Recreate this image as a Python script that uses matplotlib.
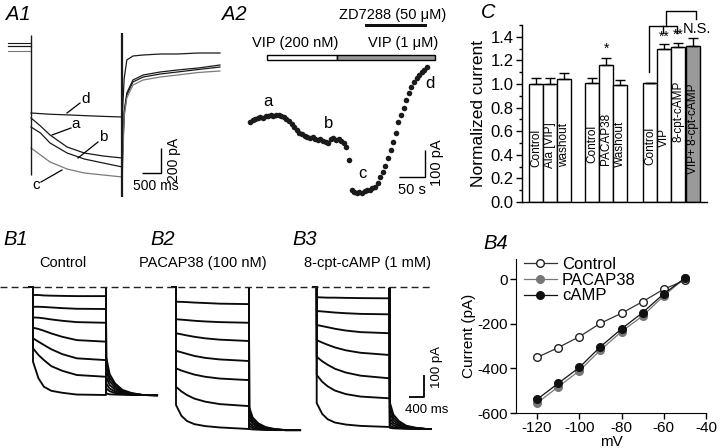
import matplotlib
matplotlib.use("Agg")
import matplotlib.pyplot as plt
from matplotlib.lines import Line2D
from matplotlib.patches import Rectangle

plt.rcParams['font.family'] = ['Liberation Sans', 'DejaVu Sans']
plt.rcParams['axes.unicode_minus'] = False

# ---------------- data ----------------
# A1: Ih traces (ms, pA)
A1_step_t = [0, 250, 500, 950, 1400, 1900, 2400]
A1_a = [-568, -632, -704, -800, -848, -872, -888]
A1_b = [-640, -688, -768, -848, -896, -928, -960]
A1_c = [-808, -864, -920, -976, -1008, -1024, -1040]
A1_d = [-528, -533, -538, -543, -549, -555, -560]
A1_hold = {'d': 32, 'a': 8, 'b': 8, 'c': -32}
A1_tail_t = [2520, 2680, 2950, 3400, 3850, 4400, 4970]
A1_tail_d = [-104, -72, -64, -56, -56, -48, -48]
A1_tail_a = [-368, -264, -224, -200, -184, -168, -144]
A1_tail_b = [-384, -280, -240, -216, -200, -180, -160]
A1_tail_c = [-408, -304, -264, -240, -224, -204, -192]
A1_transient_on = (96, -1024)
A1_transient_off = (112, -1200)

# A2: time course of Ih amplitude (s, pA change)
A2_dt = 5
A2_current = [0, 7, 11, 15, 18, 15, 22, 22, 26, 22, 26, 26, 22, 18, 11, 4,
              -7, -18, -30, -41, -44, -52, -55, -59, -55, -63, -67, -63, -70,
              -74, -78, -63, -59, -67, -63, -70, -78, -92, -141, -252, -259,
              -263, -259, -263, -255, -252, -252, -244, -241, -226, -204,
              -185, -163, -133, -104, -74, -41, 0, 26, 52, 81, 107, 130, 148,
              163, 174, 185, 192, 204]
A2_vip200 = (33, 167)
A2_vip1 = (167, 355)
A2_zd = (221, 340)

# C: normalized current
C_labels = ['Control', 'Ala [VIP]', 'washout', 'Control', 'PACAP38', 'Washout',
            'Control', 'VIP', '8-cpt-cAMP', 'VIP+ 8-cpt-cAMP']
C_values = [1.00, 1.00, 1.045, 1.01, 1.165, 0.99, 1.01, 1.298, 1.312, 1.32]
C_errors = [0.047, 0.047, 0.05, 0.042, 0.057, 0.048, 0.0, 0.037, 0.038, 0.07]
C_pos = [1, 2, 3, 5, 6, 7, 9.15, 10.15, 11.15, 12.2]

# B1-B3: current families (ms, pA)
B_step_t = [0, 150, 300, 500, 800, 1200, 2000]
B_tail_t = [2005, 2100, 2250, 2450, 2700, 3000, 3400]
B_transient = -5
B1_steps = [[-36, -36, -38, -39, -40, -41, -41],
            [-89, -89, -90, -92, -95, -98, -99],
            [-137, -138, -141, -146, -152, -158, -161],
            [-183, -189, -197, -209, -224, -239, -246],
            [-231, -246, -261, -280, -302, -321, -329],
            [-276, -306, -329, -356, -377, -396, -404],
            [-336, -411, -449, -467, -476, -484, -486]]
B1_tails = [[-479, -483, -484, -485, -486, -486, -487],
            [-456, -469, -477, -482, -484, -486, -487],
            [-434, -457, -470, -479, -483, -486, -487],
            [-404, -441, -461, -475, -482, -486, -487],
            [-374, -424, -452, -471, -480, -486, -487],
            [-344, -408, -443, -467, -479, -486, -487],
            [-314, -392, -434, -463, -477, -486, -487]]
B2_steps = [[-66, -67, -68, -70, -72, -75, -77],
            [-145, -147, -149, -152, -155, -158, -161],
            [-208, -213, -218, -224, -231, -237, -243],
            [-287, -294, -301, -310, -319, -326, -333],
            [-366, -376, -384, -394, -404, -412, -419],
            [-449, -470, -486, -502, -516, -527, -536],
            [-531, -580, -603, -617, -626, -632, -639]]
B2_tails = [[-639, -641, -642, -643, -644, -644, -644],
            [-626, -634, -639, -642, -643, -644, -644],
            [-612, -626, -634, -640, -642, -644, -644],
            [-594, -616, -629, -637, -642, -644, -644],
            [-576, -607, -624, -635, -641, -644, -644],
            [-558, -597, -618, -633, -640, -644, -644],
            [-540, -587, -613, -630, -639, -644, -644]]
B3_steps = [[-46, -47, -48, -48, -49, -50, -51],
            [-108, -110, -112, -115, -118, -121, -123],
            [-171, -176, -181, -188, -196, -203, -208],
            [-239, -250, -260, -272, -285, -296, -306],
            [-314, -334, -350, -368, -385, -399, -411],
            [-396, -426, -447, -466, -482, -493, -501],
            [-522, -571, -595, -610, -619, -625, -630]]
B3_tails = [[-634, -636, -637, -638, -639, -639, -639],
            [-624, -631, -634, -637, -638, -639, -639],
            [-608, -622, -630, -635, -637, -639, -639],
            [-590, -612, -624, -633, -637, -639, -639],
            [-568, -600, -618, -630, -635, -639, -639],
            [-545, -587, -611, -627, -634, -639, -639],
            [-520, -574, -603, -624, -633, -639, -639]]

# B4: I-V relation
B4_mv = [-120, -110, -100, -90, -80, -70, -60, -50]
B4_control = [-351, -307, -258, -198, -153, -101, -45, -6]
B4_pacap = [-555, -483, -411, -318, -235, -165, -75, 4]
B4_camp = [-539, -467, -396, -303, -223, -150, -66, 4]

# ---------------- layout helpers ----------------
W, H = 720, 448
fig = plt.figure(figsize=(W / 100, H / 100), dpi=100)


def px_axes(l, t, r, b):
    return fig.add_axes([l / W, 1 - b / H, (r - l) / W, (b - t) / H])


def trace_axes(l, t, r, b, x0, y0, xs, ys):
    ax = px_axes(l, t, r, b)
    ax.set_xlim((l - x0) * xs, (r - x0) * xs)
    ax.set_ylim((y0 - b) * ys, (y0 - t) * ys)
    ax.axis('off')
    ax._map = (x0, y0, xs, ys)
    return ax


def p2d(ax, x, y):
    x0, y0, xs, ys = ax._map
    return (x - x0) * xs, (y0 - y) * ys


def ftext(x, y, s, **kw):
    fig.text(x / W, 1 - y / H, s, **kw)


def fline(xs, ys, **kw):
    fig.add_artist(Line2D([x / W for x in xs], [1 - y / H for y in ys], **kw))


def scalebar(ax, xpx, ypx, dx, dy, lw=1.0):
    x, y = p2d(ax, xpx, ypx)
    ax.plot([x - dx, x, x], [y, y, y + dy], color='k', lw=lw,
            solid_capstyle='butt', clip_on=False)


LAB = dict(fontsize=14.5, style='italic', va='center', ha='left')

# ---------------- A1 ----------------
axA1 = trace_axes(5, 28, 225, 205, 31, 47, 26.3, 8.0)
dark, grey = '#1a1a1a', '#7a7a7a'
for key, steps, tail, col in [('d', A1_d, A1_tail_d, dark),
                              ('a', A1_a, A1_tail_a, dark),
                              ('b', A1_b, A1_tail_b, dark),
                              ('c', A1_c, A1_tail_c, grey)]:
    axA1.plot([-600, 0], [A1_hold[key]] * 2, color=col, lw=0.8)
    axA1.plot(A1_step_t, steps, color=col, lw=0.9)
    axA1.plot([2400, 2450] + A1_tail_t, [steps[-1], tail[0] - 150] + tail,
              color=col, lw=0.9)
axA1.vlines(0, A1_transient_on[1], A1_transient_on[0], color=dark, lw=1.0)
axA1.vlines(2400, A1_transient_off[1], A1_transient_off[0], color=dark, lw=1.6)
scalebar(axA1, 161, 173, 500, 200)
ftext(156, 186, '500 ms', fontsize=10, ha='center', va='center')
ftext(174, 160, '200 pA', fontsize=10, ha='center', va='center', rotation=90)
for s, tx, ty, l1, l2 in [('d', 86, 99, (80, 103), (67, 113)),
                          ('a', 76, 124, (71, 128), (52, 135)),
                          ('b', 103, 137, (98, 142), (78, 158)),
                          ('c', 36, 185, (41, 182), (62, 170))]:
    ftext(tx, ty, s, fontsize=11, ha='center', va='center')
    fline([l1[0], l2[0]], [l1[1], l2[1]], color='k', lw=0.9)
ftext(6, 14, 'A1', **LAB)

# ---------------- A2 ----------------
axA2 = trace_axes(240, 10, 450, 205, 250, 122, 1.92, 3.7)
tA2 = [A2_dt * i for i in range(len(A2_current))]
axA2.plot(tA2, A2_current, 'o', color='#1a1a1a', ms=4.0, mec='none')
y_lo, y_hi = p2d(axA2, 0, 60)[1], p2d(axA2, 0, 55)[1]
axA2.add_patch(Rectangle((A2_vip200[0], y_lo), A2_vip200[1] - A2_vip200[0],
                         y_hi - y_lo, fc='white', ec='k', lw=1, clip_on=False))
axA2.add_patch(Rectangle((A2_vip1[0], y_lo), A2_vip1[1] - A2_vip1[0],
                         y_hi - y_lo, fc='#9a9a9a', ec='k', lw=1, clip_on=False))
z_lo, z_hi = p2d(axA2, 0, 27.5)[1], p2d(axA2, 0, 24)[1]
axA2.add_patch(Rectangle((A2_zd[0], z_lo), A2_zd[1] - A2_zd[0], z_hi - z_lo,
                         fc='#111111', ec='none', clip_on=False))
ftext(393, 15, 'ZD7288 (50 μM)', fontsize=10.5, ha='center', va='center')
ftext(295, 43, 'VIP (200 nM)', fontsize=10.5, ha='center', va='center')
ftext(403, 43, 'VIP (1 μM)', fontsize=10.5, ha='center', va='center')
scalebar(axA2, 425, 177, 50, 100)
ftext(412, 190, '50 s', fontsize=10.5, ha='center', va='center')
ftext(437, 163, '100 pA', fontsize=10.5, ha='center', va='center', rotation=90)
for s, tx, ty in [('a', 268, 101), ('b', 329, 124), ('c', 362, 173), ('d', 430, 84)]:
    ftext(tx, ty, s, fontsize=12, ha='center', va='center')
ftext(222, 14, 'A2', **LAB)

# ---------------- C ----------------
axC = px_axes(522, 25, 707, 202)
cols = ['white'] * 9 + ['#9a9a9a']
axC.bar(C_pos, C_values, width=1.0, color=cols, edgecolor='k', linewidth=1.0,
        zorder=2)
axC.errorbar(C_pos, C_values, yerr=[[0] * len(C_errors), C_errors], fmt='none',
             ecolor='k', elinewidth=1.0, capsize=3.5, capthick=1.0, zorder=3)
lab_y = [0.30, 0.29, 0.30, 0.33, 0.31, 0.30, 0.31, 0.47, 0.51, 0.24]
for x, s, yb in zip(C_pos, C_labels, lab_y):
    axC.text(x, yb, s, rotation=90, ha='center', va='bottom', fontsize=8.5,
             zorder=4)
axC.set_xlim(0, 13.2)
axC.set_ylim(0, 1.5)
axC.set_yticks([0, 0.2, 0.4, 0.6, 0.8, 1.0, 1.2, 1.4])
axC.set_yticks([0.1, 0.3, 0.5, 0.7, 0.9, 1.1, 1.3, 1.5], minor=True)
axC.set_yticklabels(['0.0', '0.2', '0.4', '0.6', '0.8', '1.0', '1.2', '1.4'])
axC.tick_params(axis='y', direction='out', length=4, width=1, labelsize=12, pad=2)
axC.tick_params(axis='y', which='minor', direction='out', length=2, width=1)
axC.set_xticks([])
for sp in ['top', 'right']:
    axC.spines[sp].set_visible(False)
axC.spines['left'].set_linewidth(1)
axC.spines['bottom'].set_linewidth(1)
axC.set_ylabel('Normalized current', fontsize=12.5, labelpad=3)
axC.text(6, 1.235, '*', ha='center', va='bottom', fontsize=10)
axC.text(10.15, 1.345, '**', ha='center', va='bottom', fontsize=10)
axC.text(11.15, 1.36, '**', ha='center', va='bottom', fontsize=10)
axC.text(12.45, 1.41, 'N.S.', ha='center', va='bottom', fontsize=10.5)
br = dict(color='k', lw=1.0, clip_on=False)
axC.plot([9.07, 9.07, 11.07, 11.07], [1.105, 1.488, 1.488, 1.43], **br)
axC.plot([10.07, 10.07], [1.488, 1.43], **br)
axC.plot([10.29, 10.29, 12.43, 12.43], [1.488, 1.615, 1.615, 1.55], **br)
ftext(481, 13, 'C', **LAB)

# ---------------- B1-B3 ----------------
fline([0, 432], [287, 287], color='#222222', lw=1.0, ls=(0, (5, 3)))


def family(ax, steps, tails):
    for st, tl in zip(steps, tails):
        t = [-100, 0] + B_step_t + [B_step_t[-1]] + B_tail_t
        y = [0, 0] + st + [B_transient] + tl
        ax.plot(t, y, color='#0a0a0a', lw=1.35)


axB1 = trace_axes(0, 280, 160, 440, 33, 287, 27.4, 4.5)
family(axB1, B1_steps, B1_tails)
axB2 = trace_axes(160, 280, 305, 440, 176, 287, 27.4, 4.5)
family(axB2, B2_steps, B2_tails)
axB3 = trace_axes(305, 280, 432, 440, 316.7, 287, 27.4, 4.5)
family(axB3, B3_steps, B3_tails)
scalebar(axB3, 424, 397, 400, 100, lw=1.3)
ftext(427, 410, '400 ms', fontsize=9.5, ha='center', va='center')
ftext(437, 367, '100 pA', fontsize=9.5, ha='center', va='center', rotation=90)
ftext(63, 263, 'Control', fontsize=10.5, ha='center', va='center')
ftext(203, 263, 'PACAP38 (100 nM)', fontsize=10.5, ha='center', va='center')
ftext(367, 263, '8-cpt-cAMP (1 mM)', fontsize=10.5, ha='center', va='center')
ftext(3, 239, 'B1', **LAB)
ftext(150, 239, 'B2', **LAB)
ftext(292, 239, 'B3', **LAB)

# ---------------- B4 ----------------
axB4 = px_axes(516, 259, 706, 413)
axB4.plot(B4_mv, B4_control, '-o', color='#333333', mfc='white', mec='#222222',
          ms=5.5, lw=0.9, label='Control')
axB4.plot(B4_mv, B4_pacap, '-o', color='#777777', mfc='#777777', mec='#777777',
          ms=5.5, lw=0.9, label='PACAP38')
axB4.plot(B4_mv, B4_camp, '-o', color='#111111', mfc='#111111', mec='#111111',
          ms=5.5, lw=0.9, label='cAMP')
axB4.set_xlim(-130, -40)
axB4.set_ylim(-600, 90)
axB4.set_xticks([-120, -100, -80, -60, -40])
axB4.set_yticks([-600, -400, -200, 0])
axB4.tick_params(direction='out', length=4, width=1, labelsize=11, pad=2)
for sp in ['top', 'right']:
    axB4.spines[sp].set_visible(False)
axB4.set_xlabel('mV', fontsize=11, labelpad=0)
axB4.set_ylabel('Current (pA)', fontsize=11, labelpad=1)
axB4.legend(loc='upper left', bbox_to_anchor=(0.04, 1.015), frameon=False,
            fontsize=12, handlelength=2.0, handletextpad=0.3,
            labelspacing=0.05, borderpad=0, borderaxespad=0)
ftext(483, 243, 'B4', **LAB)

fig.savefig('out.png', dpi=100)
